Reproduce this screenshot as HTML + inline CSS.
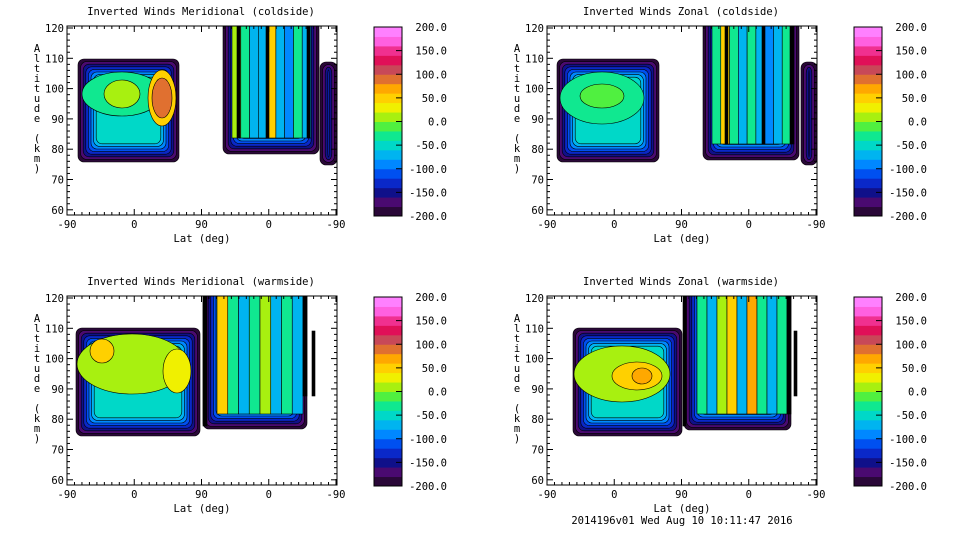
<!DOCTYPE html>
<html><head><meta charset="utf-8"><style>
body{margin:0;background:#fff}
svg{display:block}
text{font-family:"DejaVu Sans Mono","Liberation Mono",monospace;font-size:10.5px;fill:#000}
</style></head><body>
<svg id="s" width="960" height="540" viewBox="0 0 960 540" xmlns="http://www.w3.org/2000/svg"></svg>
<script>
const S=document.getElementById('s');let h='';
const band=['#2a0838','#4a0a70','#10108a','#0a28c8','#0050f0','#0088ff','#00b4f0','#00d8c8','#10e890','#50f040','#a8f010','#f0f000','#ffd000','#ffa800','#e07030','#c84858','#e01058','#f03090','#ff60e0'];
const cb=['#2a0838','#4a0a70','#10108a','#0a28c8','#0050f0','#0088ff','#00b4f0','#00d8c8','#10e890','#50f040','#a8f010','#f0f000','#ffd000','#ffa800','#e07030','#c84858','#e01058','#f03090','#ff60e0','#ff80ff'];
function rr(x1,y1,x2,y2,r,c){return `<rect x="${x1}" y="${y1}" width="${Math.max(0,x2-x1)}" height="${Math.max(0,y2-y1)}" rx="${r}" fill="${c}" stroke="#000" stroke-width="0.6"/>`;}
function block(x1,y1,x2,y2,topOpen,n){
  let o='';
  for(let i=0;i<n;i++){const d=i*2.6;o+=rr(x1+d,topOpen?y1:y1+d,x2-d,y2-d,6,band[Math.min(i,7)]);}
  return o;}
function panel(px,py,title,regs){
  let o=`<text x="${px+134}" y="${py-11}" text-anchor="middle">${title}</text>`;
  o+=`<g transform="translate(${px},${py})"><clipPath id="c${px}${py}"><rect width="270" height="189"/></clipPath><g clip-path="url(#c${px}${py})">`;
  for(const r of regs){
    if(r.t=='b')o+=block(r.x1,r.y1,r.x2,r.y2,r.open,r.n||8);
    else if(r.t=='e')o+=`<ellipse cx="${r.x}" cy="${r.y}" rx="${r.rx}" ry="${r.ry}" fill="${r.c}" stroke="#000" stroke-width="0.6"/>`;
    else if(r.t=='v')o+=`<rect x="${r.x}" y="${r.y1}" width="${r.w}" height="${r.y2-r.y1}" fill="${r.c}" stroke="#000" stroke-width="0.6"/>`;
  }
  o+=`</g><rect width="270" height="189" fill="none" stroke="#000"/>`;
  for(let v=60;v<=120;v+=10){const y=2+(120-v)*3.03;
    o+=`<line x1="0" x2="6" y1="${y}" y2="${y}" stroke="#000"/><line x1="270" x2="264" y1="${y}" y2="${y}" stroke="#000"/>`;
    o+=`<text x="-3" y="${y+4}" text-anchor="end">${v}</text>`;
    if(v<120)for(let k=1;k<5;k++){const yy=y-k*3.03*2;o+=`<line x1="0" x2="3" y1="${yy}" y2="${yy}" stroke="#000"/><line x1="270" x2="267" y1="${yy}" y2="${yy}" stroke="#000"/>`;}
  }
  const xl=['-90','0','90','0','-90'];
  for(let i=0;i<5;i++){const x=i*67.25;
    o+=`<line x1="${x}" x2="${x}" y1="189" y2="183" stroke="#000"/><line x1="${x}" x2="${x}" y1="0" y2="6" stroke="#000"/>`;
    o+=`<text x="${x}" y="202" text-anchor="middle">${xl[i]}</text>`;
    if(i<4)for(let k=1;k<9;k++){const xx=x+k*67.25/9;o+=`<line x1="${xx}" x2="${xx}" y1="189" y2="186" stroke="#000"/><line x1="${xx}" x2="${xx}" y1="0" y2="3" stroke="#000"/>`;}
  }
  o+=`<text x="135" y="216" text-anchor="middle">Lat (deg)</text>`;
  const lab='Altitude (km)';
  for(let i=0;i<lab.length;i++)o+=`<text x="-30" y="${26+i*10}" text-anchor="middle">${lab[i]}</text>`;
  o+='</g>';
  const cx=px+307;
  const bh=189/cb.length;
  for(let i=0;i<cb.length;i++)o+=`<rect x="${cx}" y="${py+1+189-(i+1)*bh}" width="28" height="${bh+0.5}" fill="${cb[i]}"/>`;
  o+=`<rect x="${cx}" y="${py+1}" width="28" height="189" fill="none" stroke="#000"/>`;
  const vals=['200.0','150.0','100.0','50.0','0.0','-50.0','-100.0','-150.0','-200.0'];
  for(let i=0;i<9;i++){const y=py+1+i*189/8;o+=`<line x1="${cx+28}" x2="${cx+22}" y1="${y}" y2="${y}" stroke="#000"/><text x="${cx+73}" y="${y+4}" text-anchor="end">${vals[i]}</text>`;}
  return o;}
function stripes(x1,x2,y1,y2,cols){const w=(x2-x1)/cols.length;
  return cols.map((c,i)=>({t:'v',x:x1+i*w,y1:y1,y2:y2,w:w,c:c}));}
const P1=[{t:'b',x1:11,y1:33,x2:112,y2:136},{t:'b',x1:156,y1:-10,x2:252,y2:128,open:1},
 {t:'e',x:55,y:68,rx:40,ry:22,c:'#10e890'},{t:'e',x:55,y:68,rx:18,ry:14,c:'#a8f010'},
 {t:'e',x:95,y:72,rx:14,ry:28,c:'#ffd000'},{t:'e',x:95,y:72,rx:10,ry:20,c:'#e07030'},
 ...stripes(165,244,-5,112,['#a8f010','#10e890','#00b4f0','#00b4f0','#ffd000','#00b4f0','#0088ff','#10e890','#00b4f0']),
 {t:'v',x:170,y1:-5,y2:112,w:3,c:'#000'},{t:'v',x:199,y1:-5,y2:112,w:3,c:'#000'},{t:'v',x:240,y1:-5,y2:112,w:3,c:'#000'},
 {t:'b',x1:253,y1:36,x2:270,y2:139,n:5}];
const P2=[{t:'b',x1:10,y1:33,x2:112,y2:136},{t:'b',x1:156,y1:-10,x2:252,y2:134,open:1},
 {t:'e',x:55,y:72,rx:42,ry:26,c:'#10e890'},{t:'e',x:55,y:70,rx:22,ry:12,c:'#50f040'},
 ...stripes(165,244,-5,118,['#10e890','#ffd000','#10e890','#00b4f0','#10e890','#00b4f0','#0088ff','#00b4f0','#10e890']),
 {t:'v',x:178,y1:-5,y2:118,w:3,c:'#000'},{t:'v',x:215,y1:-5,y2:118,w:3,c:'#000'},{t:'v',x:243,y1:-5,y2:118,w:4,c:'#000'},
 {t:'b',x1:254,y1:36,x2:270,y2:139,n:5}];
const P3=[{t:'b',x1:9,y1:32,x2:133,y2:140},{t:'b',x1:136,y1:-10,x2:240,y2:133,open:1},
 {t:'e',x:65,y:68,rx:55,ry:30,c:'#a8f010'},{t:'e',x:35,y:55,rx:12,ry:12,c:'#ffd000'},{t:'e',x:110,y:75,rx:14,ry:22,c:'#f0f000'},
 ...stripes(150,236,-5,118,['#ffd000','#10e890','#00b4f0','#10e890','#a8f010','#00b4f0','#10e890','#00b4f0']),
 {t:'v',x:136,y1:-5,y2:130,w:4,c:'#000'},{t:'v',x:236,y1:-5,y2:100,w:4,c:'#000'},{t:'v',x:245,y1:35,y2:100,w:3,c:'#000'}];
const P4=[{t:'b',x1:26,y1:32,x2:135,y2:140},{t:'b',x1:137,y1:-10,x2:244,y2:134,open:1},
 {t:'e',x:75,y:78,rx:48,ry:28,c:'#a8f010'},{t:'e',x:90,y:80,rx:25,ry:14,c:'#ffd000'},{t:'e',x:95,y:80,rx:10,ry:8,c:'#ffa800'},
 ...stripes(150,240,-5,118,['#10e890','#00b4f0','#a8f010','#ffd000','#00b4f0','#ffa800','#10e890','#00b4f0','#10e890']),
 {t:'v',x:136,y1:-5,y2:130,w:3,c:'#000'},{t:'v',x:240,y1:-5,y2:118,w:4,c:'#000'},{t:'v',x:247,y1:35,y2:100,w:3,c:'#000'}];
h+=panel(67,26,'Inverted Winds Meridional (coldside)',P1);
h+=panel(547,26,'Inverted Winds Zonal (coldside)',P2);
h+=panel(67,296,'Inverted Winds Meridional (warmside)',P3);
h+=panel(547,296,'Inverted Winds Zonal (warmside)',P4);
h+=`<text x="682" y="524" text-anchor="middle">2014196v01 Wed Aug 10 10:11:47 2016</text>`;
S.innerHTML=h;
</script>
</body></html>
